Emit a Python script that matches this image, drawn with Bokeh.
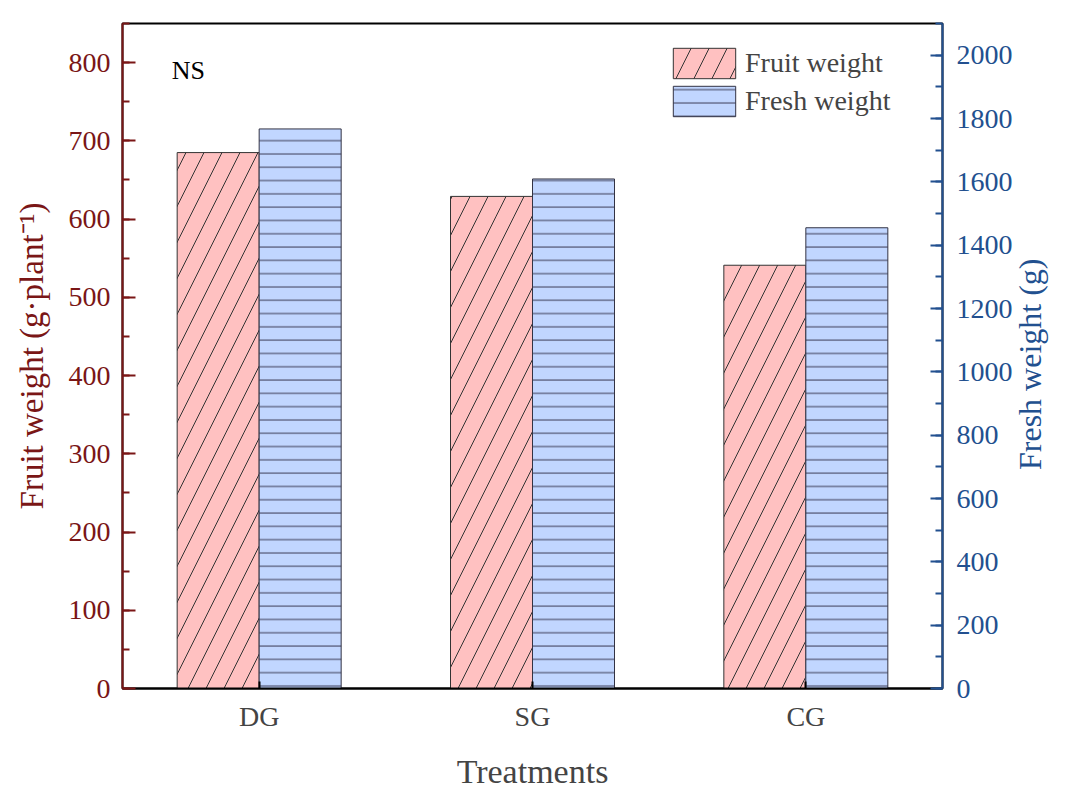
import math
from bokeh.plotting import figure
from bokeh.models import (Range1d, LinearAxis, SingleIntervalTicker, FixedTicker, Label, Legend,
                          LegendItem, FactorRange, ColumnDataSource)
from bokeh.transform import dodge
from bokeh.embed import file_html
from bokeh.resources import INLINE

treatments = ["DG", "SG", "CG"]
fruit_weight = [685, 629, 541]
fresh_weight = [1767, 1609, 1455]

FONT = "Liberation Serif"
RED = "#7a1616"
BLUE = "#22508f"

src = ColumnDataSource(dict(cat=treatments, fruit=fruit_weight, fresh=fresh_weight))

p = figure(width=1068, height=792, x_range=FactorRange(factors=treatments, range_padding=0),
           y_range=Range1d(0, 850), output_backend="svg", toolbar_location=None,
           min_border_left=122, min_border_right=125, min_border_top=23, min_border_bottom=102)
p.extra_y_ranges = {"fresh": Range1d(0, 2100)}
p.xgrid.visible = False
p.ygrid.visible = False
p.outline_line_color = "black"
p.outline_line_width = 2

r1 = p.vbar(x=dodge("cat", -0.15, range=p.x_range), top="fruit", width=0.3, source=src,
            fill_color="#ffc1c1", line_color="#333333", line_width=1,
            hatch_pattern="/", hatch_color="#333333", hatch_weight=1, hatch_scale=36)
r2 = p.vbar(x=dodge("cat", 0.15, range=p.x_range), top="fresh", width=0.3, source=src,
            y_range_name="fresh",
            fill_color="#c1d6ff", line_color="#333344", line_width=1,
            hatch_pattern="-", hatch_color="#3a3a55", hatch_weight=1, hatch_scale=13.3)

# bottom axis
xa = p.xaxis[0]
xa.axis_label = "Treatments"
xa.axis_label_text_font = FONT
xa.axis_label_text_font_style = "normal"
xa.axis_label_text_font_size = "34px"
xa.axis_label_standoff = 18
xa.major_label_text_font = FONT
xa.major_label_text_font_size = "28px"
xa.major_label_standoff = 12
xa.axis_line_color = "black"
xa.axis_line_width = 2
xa.major_tick_in = 7
xa.major_tick_out = 0
xa.major_tick_line_color = "black"
xa.major_tick_line_width = 2

# left axis
ya = p.yaxis[0]
ya.ticker = SingleIntervalTicker(interval=100, num_minor_ticks=2)
ya.axis_label = "Fruit weight (g·plant⁻¹)"
ya.axis_label_text_font = FONT
ya.axis_label_text_font_style = "normal"
ya.axis_label_text_font_size = "33px"
ya.axis_label_text_color = RED
ya.axis_label_standoff = 16
ya.major_label_text_font = FONT
ya.major_label_text_font_size = "28px"
ya.major_label_text_color = RED
ya.major_label_standoff = 12
ya.axis_line_color = RED
ya.axis_line_width = 2
ya.major_tick_line_color = RED
ya.minor_tick_line_color = RED
ya.major_tick_line_width = 2
ya.minor_tick_line_width = 2
ya.major_tick_in = 13
ya.major_tick_out = 0
ya.minor_tick_in = 7
ya.minor_tick_out = 0

# right axis
ra = LinearAxis(y_range_name="fresh", ticker=SingleIntervalTicker(interval=200, num_minor_ticks=2))
ra.major_label_text_font = FONT
ra.major_label_text_font_size = "28px"
ra.major_label_text_color = BLUE
ra.major_label_standoff = 14
ra.axis_line_color = BLUE
ra.axis_line_width = 2
ra.major_tick_line_color = BLUE
ra.minor_tick_line_color = BLUE
ra.major_tick_line_width = 2
ra.minor_tick_line_width = 2
ra.major_tick_in = 12
ra.major_tick_out = 0
ra.minor_tick_in = 7
ra.minor_tick_out = 0
p.add_layout(ra, "right")

# right-axis title, reading bottom to top as in the reference
title_start = 690
rt = LinearAxis(y_range_name="fresh", ticker=FixedTicker(ticks=[title_start], minor_ticks=[]),
                major_label_overrides={title_start: "Fresh weight (g)"})
rt.major_label_orientation = math.pi / 2
rt.major_label_text_font = FONT
rt.major_label_text_font_size = "32px"
rt.major_label_text_color = BLUE
rt.major_label_standoff = 14
rt.axis_line_color = None
rt.major_tick_line_color = None
rt.minor_tick_line_color = None
rt.major_tick_in = 0
rt.major_tick_out = 0
rt.minor_tick_in = 0
rt.minor_tick_out = 0
p.add_layout(rt, "right")

p.add_layout(Label(x=0.18, y=790, text="NS", text_font=FONT, text_font_size="26px",
                   text_color="black", text_baseline="middle"))

legend = Legend(items=[LegendItem(label="Fruit weight", renderers=[r1]),
                       LegendItem(label="Fresh weight", renderers=[r2])],
                location=(543, 568), glyph_width=78, glyph_height=38, spacing=0, padding=0,
                label_standoff=2, label_text_font=FONT, label_text_font_size="28px",
                border_line_alpha=0, background_fill_alpha=0)
p.add_layout(legend)

open("out.html", "w").write(file_html(p, INLINE))
